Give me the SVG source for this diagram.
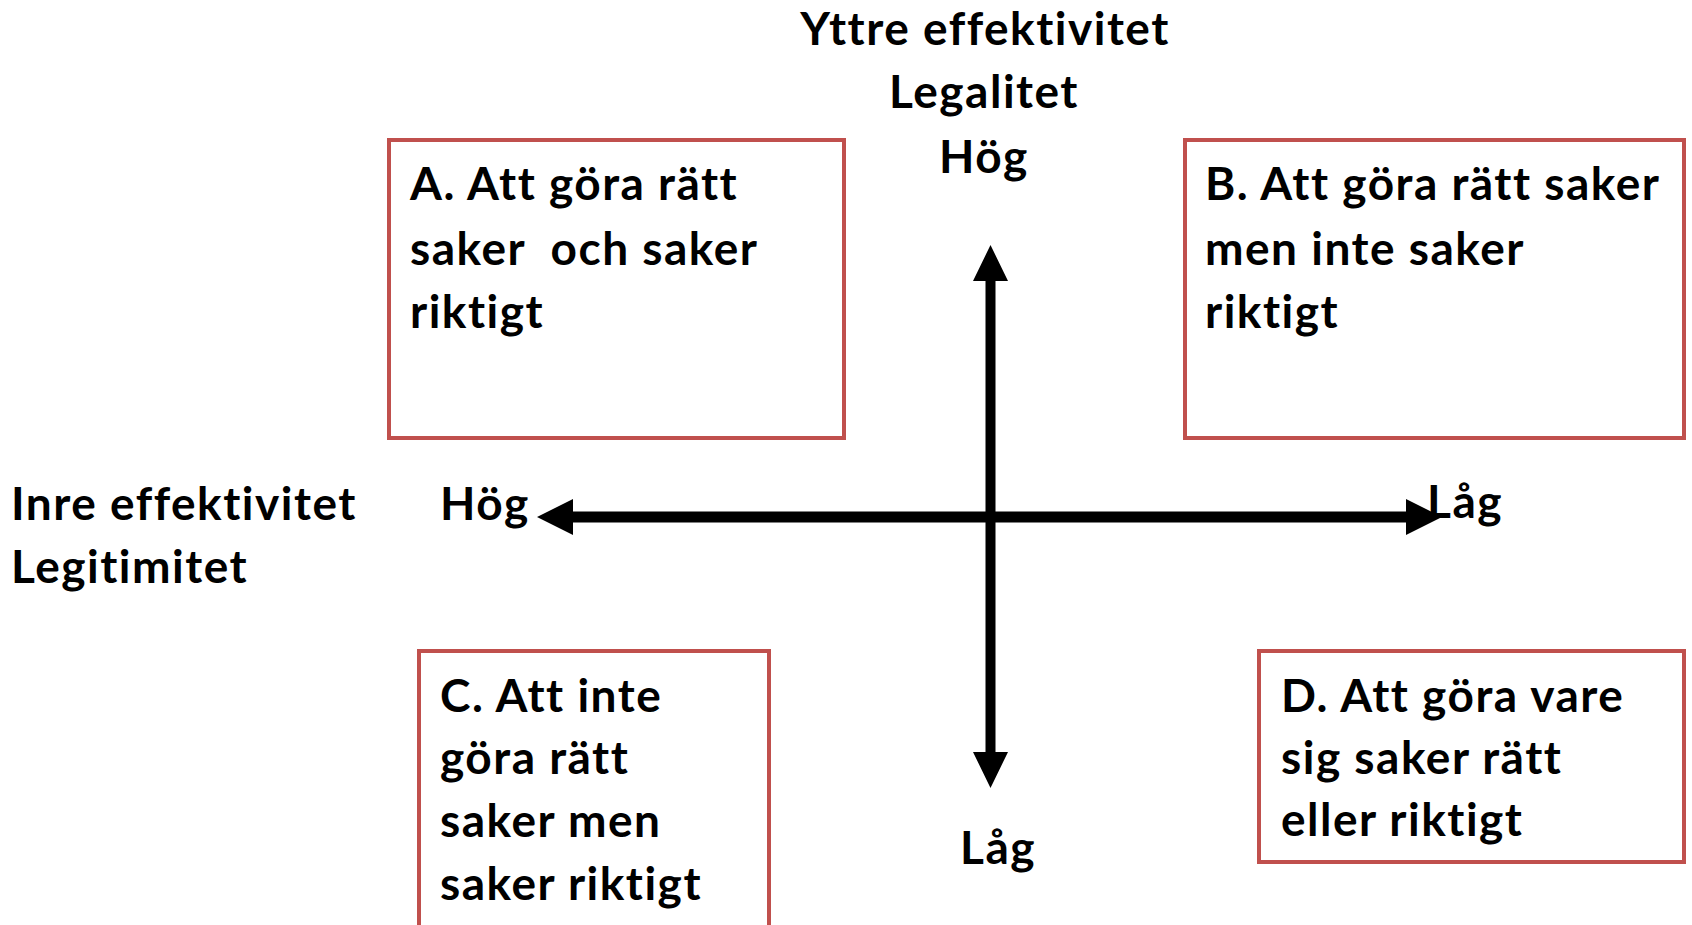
<svg xmlns="http://www.w3.org/2000/svg" width="1692" height="925" viewBox="0 0 1692 925">
  <style>
    .box { fill: #ffffff; stroke: #C0504D; stroke-width: 4; }
    .t { font-family: Lato, "Open Sans", "Liberation Sans", sans-serif; font-weight: bold; font-size: 46px; letter-spacing: 1.5px; fill: #000000; }
    .mid { text-anchor: middle; }
    .arrow { fill: #000000; }
  </style>
  <rect width="1692" height="925" fill="#ffffff"/>

  <g id="connectors">
    <polygon class="arrow" points="537,517 573,499 573,511.5 1406,511.5 1406,499 1442,517 1406,535 1406,522.5 573,522.5 573,535"/>
    <polygon class="arrow" points="990.5,245 1008,281 995.5,281 995.5,752 1008,752 990.5,788 973,752 985.5,752 985.5,281 973,281"/>
  </g>

  <g id="label-yttre">
    <text class="t mid" x="985" y="45">Yttre effektivitet</text>
    <text class="t mid" x="984" y="108">Legalitet</text>
    <text class="t mid" x="984" y="173">Hög</text>
  </g>

  <g id="label-inre">
    <text class="t" x="11" y="520">Inre effektivitet</text>
    <text class="t" x="11" y="583">Legitimitet</text>
  </g>

  <g id="label-hog-left">
    <text class="t" x="440" y="520">Hög</text>
  </g>

  <g id="label-lag-right">
    <text class="t" x="1427" y="518">Låg</text>
  </g>

  <g id="label-lag-bottom">
    <text class="t mid" x="998" y="864">Låg</text>
  </g>

  <g id="node-a">
    <rect class="box" x="389" y="140" width="455" height="298"/>
    <text class="t" x="410" y="200">A. Att göra rätt</text>
    <text class="t" x="410" y="265" xml:space="preserve">saker  och saker</text>
    <text class="t" x="410" y="328">riktigt</text>
  </g>

  <g id="node-b">
    <rect class="box" x="1185" y="140" width="499" height="298"/>
    <text class="t" x="1205" y="200">B. Att göra rätt saker</text>
    <text class="t" x="1205" y="265">men inte saker</text>
    <text class="t" x="1205" y="328">riktigt</text>
  </g>

  <g id="node-c">
    <rect class="box" x="419" y="651" width="350" height="280"/>
    <text class="t" x="440" y="712">C. Att inte</text>
    <text class="t" x="440" y="774">göra rätt</text>
    <text class="t" x="440" y="837">saker men</text>
    <text class="t" x="440" y="900">saker riktigt</text>
  </g>

  <g id="node-d">
    <rect class="box" x="1259" y="651" width="425" height="211"/>
    <text class="t" x="1281" y="712">D. Att göra vare</text>
    <text class="t" x="1281" y="774">sig saker rätt</text>
    <text class="t" x="1281" y="836">eller riktigt</text>
  </g>
</svg>
